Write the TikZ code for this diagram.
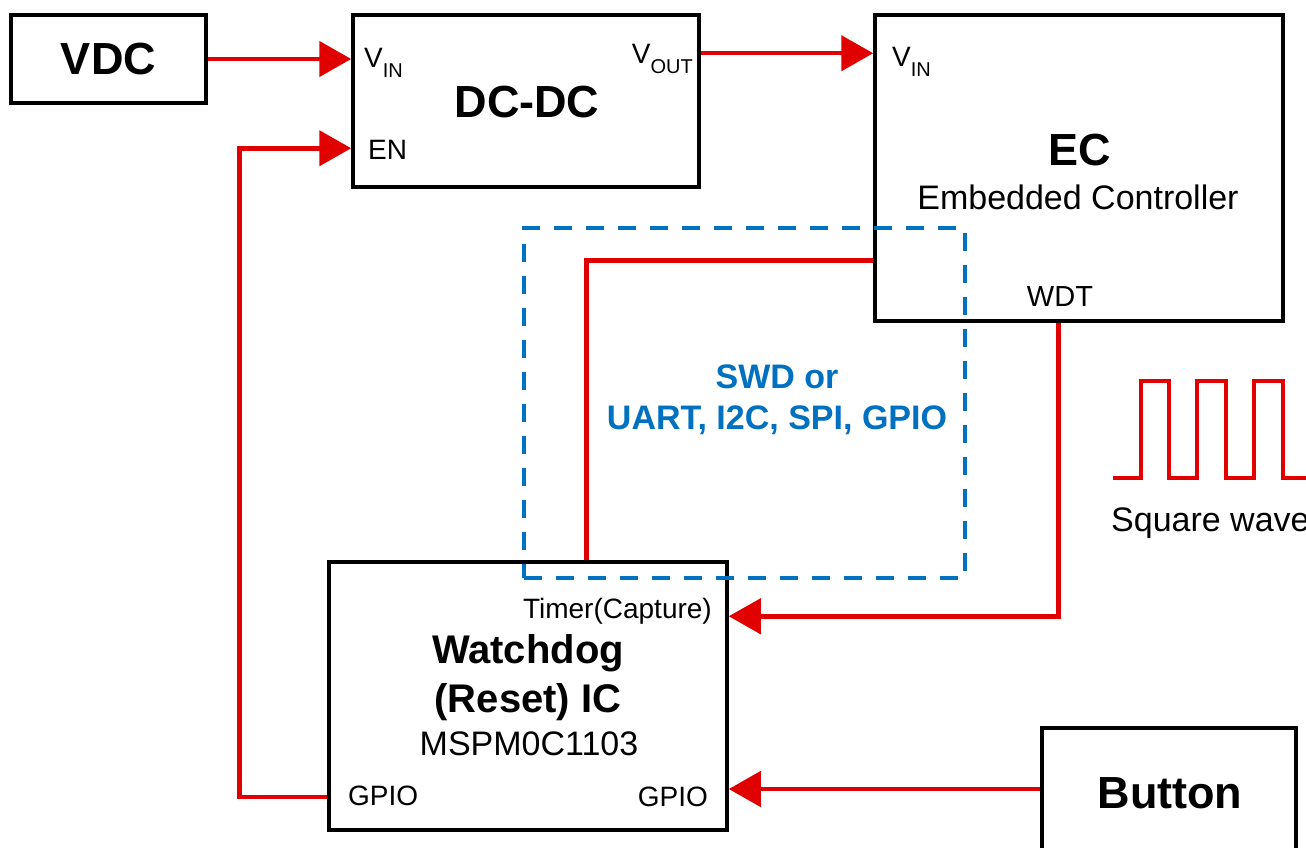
\documentclass[tikz,border=0pt]{standalone}
\usepackage{fontspec}
\setmainfont{Liberation Sans}
\usetikzlibrary{arrows.meta}
\definecolor{wred}{HTML}{E00000}
\definecolor{wblue}{HTML}{0070C0}
\newcommand{\fs}[1]{\fontsize{#1}{#1}\selectfont}
\newcommand{\sub}[1]{\raisebox{-0.35em}{\fontsize{20}{20}\selectfont #1}}
\tikzset{
  blk/.style={draw=black, line width=3.5pt, fill=white, inner sep=0pt},
  wire/.style={draw=wred, line width=4.5pt},
  arr/.style={wire, -{Triangle[length=32pt,width=35pt]}},
  lbl/.style={inner sep=0pt, font=\fs{28}},
}
\begin{document}
\begin{tikzpicture}[x=1pt,y=-1pt]
\useasboundingbox[fill=white] (0,0) rectangle (1306,848);
% blocks
\node[blk, minimum width=195pt, minimum height=88pt] (vdc) at (108.5,59) {\fs{45}\bfseries VDC};
\node[blk, minimum width=346pt, minimum height=172pt] (dcdc) at (526,101) {};
\node[blk, minimum width=408pt, minimum height=306pt] (ec) at (1079,168) {};
\node[blk, minimum width=398pt, minimum height=268pt] (wd) at (528,696) {};
\node[blk, minimum width=254pt, minimum height=142pt] (btn) at (1169,799) {};
% dashed interface box
\node[draw=wblue, line width=3.5pt, dash pattern=on 18pt off 14pt, minimum width=441pt, minimum height=350pt, inner sep=0pt] (bus) at (744.5,403) {};
% texts
\node[inner sep=0pt, font=\fs{45}\bfseries] (dcdct) at (527,102) {DC-DC};
\node[lbl, anchor=base west] (dvin) at (364,68) {V\sub{IN}};
\node[lbl, anchor=base west] (den) at (368,160) {EN};
\node[lbl, anchor=base east] (dvout) at (693,64) {V\sub{OUT}};
\node[lbl, anchor=base west] (evin) at (892,67) {V\sub{IN}};
\node[inner sep=0pt, font=\fs{45}\bfseries] (ect) at (1080,150) {EC};
\node[inner sep=0pt, font=\fs{34}] (ecs) at (1078,197) {Embedded Controller};
\node[lbl, anchor=base, font=\fs{29}] (wdt) at (1060,306) {WDT};
\node[inner sep=0pt, font=\fs{34}\bfseries, text=wblue, align=center] (bust) at (777,400) {SWD or\\[7pt]UART, I2C, SPI, GPIO};
\node[lbl, anchor=base east] (tim) at (712,618) {Timer(Capture)};
\node[inner sep=0pt, font=\fs{40}\bfseries] (wdt1) at (528,653) {Watchdog};
\node[inner sep=0pt, font=\fs{40}\bfseries] (wdt2) at (528,702) {(Reset) IC};
\node[inner sep=0pt, font=\fs{34}] (wdt3) at (529,744) {MSPM0C1103};
\node[lbl, anchor=base west] (g1) at (348,805) {GPIO};
\node[lbl, anchor=base east] (g2) at (708,806) {GPIO};
\node[inner sep=0pt, font=\fs{45}\bfseries] (btnt) at (1170,793) {Button};
% connectors
\draw[arr] (vdc.east) -- (vdc.east -| dcdc.west);
\draw[arr] ([yshift=-40pt]dcdc.north east) -- ([yshift=-40pt]dcdc.north east -| ec.west);
\draw[arr] ([yshift=35pt]wd.south west) -- ++(-88,0) |- ([yshift=-135pt]dcdc.north west);
\draw[wire] ([yshift=-247pt]ec.north west) -| ([xshift=259pt]wd.north west);
\draw[arr] ([xshift=185pt]ec.south west) |- ([yshift=-56pt]wd.north east);
\draw[arr] ([yshift=10pt]btn.west) -- ([yshift=10pt]btn.west -| wd.east);
% square wave
\draw[wire, line join=miter] (1113,478) -- (1141,478) -- (1141,381) -- (1169,381) -- (1169,478) -- (1197,478) -- (1197,381) -- (1226,381) -- (1226,478) -- (1254,478) -- (1254,381) -- (1283,381) -- (1283,478) -- (1310,478);
\node[inner sep=0pt, anchor=base west, font=\fs{34}] (sq) at (1111,531) {Square wave};
\end{tikzpicture}
\end{document}
